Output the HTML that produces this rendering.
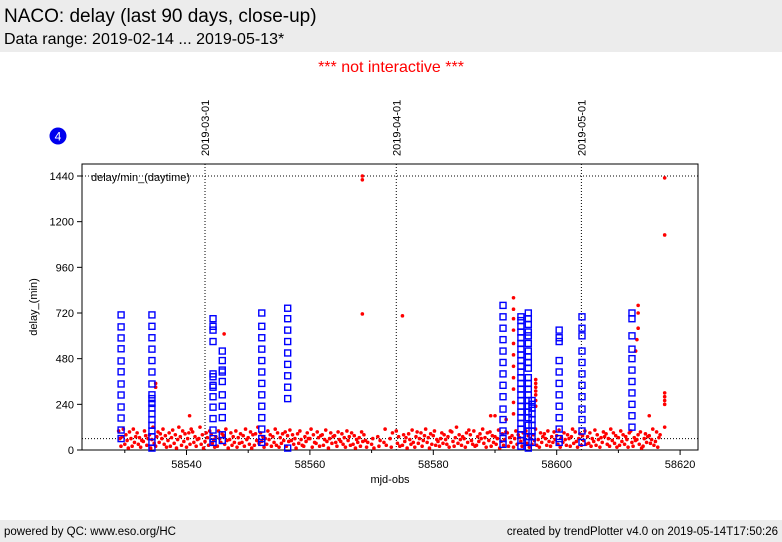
<!DOCTYPE html>
<html><head><meta charset="utf-8"><style>
body{margin:0;width:782px;height:542px;background:#fff;font-family:"Liberation Sans",sans-serif;overflow:hidden;position:relative}
#hdr{position:absolute;left:0;top:0;width:782px;height:52px;background:#ececec}
#t1{position:absolute;left:4px;top:6px;font-size:19px}
#t2{position:absolute;left:4px;top:31px;font-size:16px}
#ni{position:absolute;left:0;width:782px;top:59px;text-align:center;color:#f00;font-size:16px}
#ftr{position:absolute;left:0;top:520px;width:782px;height:22px;background:#ececec;font-size:11.5px}
#fl{position:absolute;left:4px;top:6px}#fr{position:absolute;right:4px;top:6px}
svg{position:absolute;left:0;top:0}
</style></head><body>
<div id="hdr"><div id="t1">NACO: delay (last 90 days, close-up)</div><div id="t2">Data range: 2019-02-14 ... 2019-05-13*</div></div>
<div id="ni">*** not interactive ***</div>
<div id="ftr"><span id="fl">powered by QC: www.eso.org/HC</span><span id="fr">created by trendPlotter v4.0 on 2019-05-14T17:50:26</span></div>
<svg id="chart" width="782" height="542"></svg>
<script>
const xTicks=[58540,58560,58580,58600,58620];
const yTicks=[0,240,480,720,960,1200,1440];
const dateLabels=["2019-03-01","2019-04-01","2019-05-01"];
const dateMjd=[58543,58574,58604];
const refLines=[1440,60];
const blueMjd=[58529.4,58534.4,58544.3,58545.8,58552.2,58556.4,58591.3,58594.2,58595.4,58596.0,58600.4,58604.1,58612.2];
const blueVals=[
[710,647,589,532,468,411,347,289,226,168,105,60],
[710,650,590,530,470,410,347,290,270,245,220,190,160,130,100,70,40,10],
[690,650,630,570,400,385,340,330,280,225,165,105,60,40],
[520,470,420,410,360,290,230,170,80,50],
[720,650,590,530,470,410,350,290,230,170,110,60,40],
[745,690,630,570,510,450,390,330,270,10],
[760,700,640,580,520,460,400,340,280,215,160,100,60,30],
[700,680,650,620,590,560,530,500,470,440,410,380,350,320,290,260,230,200,170,140,110,80,50,20],
[720,690,660,620,600,560,520,490,460,430,380,350,320,290,260,230,200,170,130,100,70,40,10],
[260,240,220,190,160,130,100,70,40],
[630,590,570,470,410,350,290,230,170,110,60,40],
[700,640,600,520,460,400,340,280,215,160,100,40],
[720,690,600,530,480,420,360,300,240,180,120]];
const redExtraMjd=[58568.5,58568.5,58568.5,58575,58617.5,58617.5,58617.5,58617.5,58617.5,58617.5,58617.5,58613.2,58613.2,58613.2,58613,58612.8,58546.1,58535,58535,58540.5,58590,58615,58593,58593,58593,58593,58593,58593,58593,58593,58593,58593,58593,58596.6,58596.6,58596.6,58596.6,58596.6,58596.6,58596.6,58589.3,58591.8];
const redExtraVal=[1440,1420,715,705,1430,1130,300,280,260,240,120,760,720,640,580,520,610,350,330,180,180,180,800,740,690,630,560,500,440,380,320,250,190,370,350,330,310,290,260,230,180,160];
const lowDays=[];const lowVals=[
[100,60,20,70,110],[30,80,50,10,95],[60,20,110,40,70],[90,30,65,15,50],[45,100,75,25,60],[80,10,55,120,35],
[20,70,95,40,85],[60,110,30,75,15],[50,90,20,65,105],[35,80,10,55,120],[70,25,100,45,85],[15,60,90,30,110],
[95,40,70,20,55],[60,120,30,80,10],[45,90,65,25,100],[80,35,55,15,70],[20,100,60,40,85],[75,30,110,50,10],
[55,90,25,70,40],[100,15,65,35,85],[40,75,20,110,55],[65,30,95,10,80],[25,85,50,120,35],[90,45,70,15,60],
[30,100,55,80,20],[70,40,110,25,90],[15,65,35,85,50],[95,20,75,45,105],[50,80,30,60,10],[85,35,100,55,25],
[20,70,45,90,60],[60,110,15,80,40],[35,95,65,20,75],[80,25,55,105,45],[10,60,90,35,70],[75,40,20,95,55],
[45,85,30,65,15],[100,50,70,25,90],[30,75,10,55,40],[65,20,95,45,80],[50,15,40],[30,60,10],[70,20,50],
[40,110,25],[60,15,90],[100,35,70,20],[25,80,45,65,10],[85,55,30,105,40],[15,70,95,35,60],[90,20,50,75,110],
[40,65,10,85,30],[75,100,25,55,45],[20,60,90,35,80],[55,30,70,15,100],[95,45,20,65,120],[35,80,55,25,70],
[60,15,90,40,105],[80,50,30,100,20],[25,70,45,85,60],[110,35,65,15,90],[50,95,20,75,40],[70,30,60,105,10],
[45,85,25,55,95],[90,20,65,40,75],[15,60,100,30,80],[65,45,20,90,55],[100,35,75,15,60],[30,80,50,110,25],
[55,15,90,40,70],[85,60,25,100,45],[20,70,40,95,55],[75,30,105,15,65],[40,90,55,25,80],[60,20,70,110,35],
[95,45,15,60,85],[25,75,50,100,30],[70,35,90,20,60],[45,105,25,80,55],[15,65,40,95,70],[85,30,60,20,110],
[50,90,35,75,15],[65,25,100,45,80],[30,70,55,15,90],[100,40,20,65,50],[55,80,30,95,10],[20,60,85,40,70],
[75,35,55,110,25],[45,95,15,65,80]];
for(let i=0;i<lowVals.length;i++)lowDays.push(58529+i);

const svg=document.getElementById('chart');const NS='http://www.w3.org/2000/svg';
const L=82,R=698,T=164,B=450;
const xs=m=>186.5+(m-58540)*6.17;
const ys=v=>450-v*(274/1440);
function mk(tag,attrs,parent){const e=document.createElementNS(NS,tag);for(const k in attrs)e.setAttribute(k,attrs[k]);(parent||svg).appendChild(e);return e;}
const frame=mk('rect',{x:L,y:T,width:R-L,height:B-T,fill:'none',stroke:'#000','stroke-width':1});


xTicks.forEach(t=>{const x=xs(t);
 const ln=mk('line',{x1:x,y1:B,x2:x,y2:B+5,stroke:'#000'});
 
 
 const tx=mk('text',{x:x,y:B+18,'text-anchor':'middle','font-size':11,'font-family':'Liberation Sans, sans-serif'});tx.textContent=t;
 
 });
for(let m=58530;m<=58630;m+=10){if(m%20&&xs(m)<R&&xs(m)>L){const l=mk('line',{x1:xs(m),y1:B,x2:xs(m),y2:B+3,stroke:'#000'});
 
 }}
yTicks.forEach(t=>{const y=ys(t);
 const ln=mk('line',{x1:L-5,y1:y,x2:L,y2:y,stroke:'#000'});
 
 
 const tx=mk('text',{x:L-8,y:y+4,'text-anchor':'end','font-size':11,'font-family':'Liberation Sans, sans-serif'});tx.textContent=t;
 
 });
refLines.forEach(v=>{const l=mk('line',{x1:L,y1:ys(v),x2:R,y2:ys(v),stroke:'#000','stroke-dasharray':'1,2'});
 
 });
dateMjd.forEach((m,i)=>{const x=xs(m);
 const l=mk('line',{x1:x,y1:T,x2:x,y2:B,stroke:'#000','stroke-dasharray':'1,2'});
 
 
 const tx=mk('text',{x:0,y:0,transform:`translate(${x+4},156) rotate(-90)`,'font-size':11,'font-family':'Liberation Sans, sans-serif'});tx.textContent=dateLabels[i];
 
 });
const xl=mk('text',{x:390,y:483,'text-anchor':'middle','font-size':11,'font-family':'Liberation Sans, sans-serif'});xl.textContent='mjd-obs';


const yl=mk('text',{x:0,y:0,transform:'translate(37,307) rotate(-90)','text-anchor':'middle','font-size':11,'font-family':'Liberation Sans, sans-serif'});yl.textContent='delay_(min)';


const lg=mk('text',{x:91,y:181,'font-size':11,'font-family':'Liberation Sans, sans-serif'});lg.textContent='delay/min_(daytime)';


const bc=mk('circle',{cx:58,cy:136,r:8.5,fill:'#0000ee'});


const bt=mk('text',{x:58,y:140.5,'text-anchor':'middle','font-size':12,fill:'#fff','font-family':'Liberation Sans, sans-serif'});bt.textContent='4';


const red=mk('g',{fill:'#f00'});


lowDays.forEach((d,i)=>{lowVals[i].forEach((v,j)=>{const c=mk('circle',{cx:xs(d+j*0.19),cy:ys(v),r:1.8},red);
 
 });});
redExtraMjd.forEach((m,i)=>{const c=mk('circle',{cx:xs(m),cy:ys(redExtraVal[i]),r:1.8},red);
 
 });
const blue=mk('g',{fill:'none',stroke:'#0000ff','stroke-width':1.4});


blueMjd.forEach((m,i)=>{blueVals[i].forEach(v=>{const r=mk('rect',{x:xs(m)-3,y:ys(v)-3,width:6,height:6},blue);
 
 });});
</script>
</body></html>
